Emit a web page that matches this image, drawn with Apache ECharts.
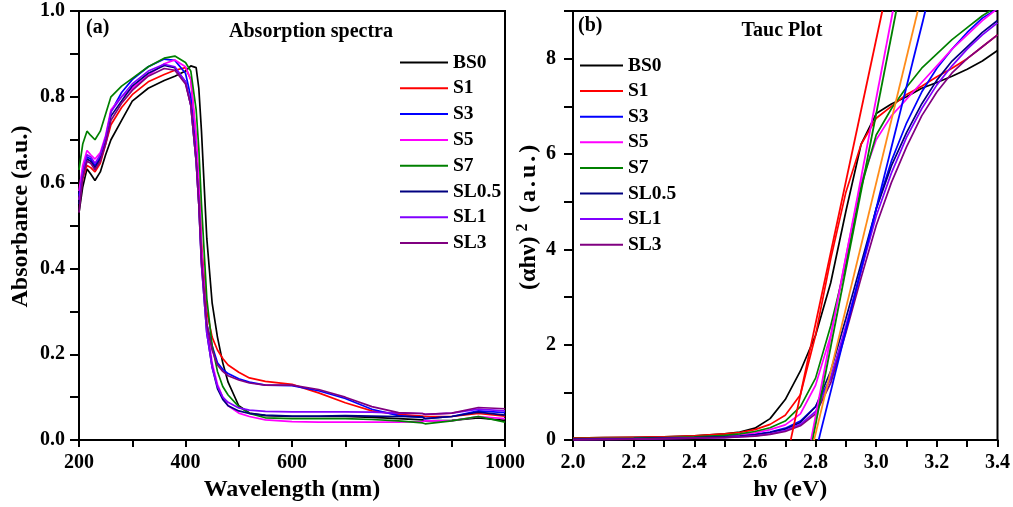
<!DOCTYPE html>
<html><head><meta charset="utf-8">
<script src="https://cdn.jsdelivr.net/npm/echarts@6/dist/echarts.min.js"></script>
<style>html,body{margin:0;padding:0;background:#fff}#c{width:1013px;height:507px}</style>
</head><body><div id="c"></div>
<script>
const names = ['BS0','S1','S3','S5','S7','SL0.5','SL1','SL3'];
const colors = ['#000000','#ff0000','#0000ff','#ff00ff','#008000','#000080','#8000ff','#800080'];

// Panel (a): absorption spectra
const wavelength = [200,207,215,222,230,240,250,260,280,300,330,360,380,400,410,420,425,430,440,450,460,470,480,500,520,550,600,650,700,750,800,845,850,900,950,1000];
const absBS0  = [0.53,0.59,0.632,0.62,0.605,0.625,0.665,0.70,0.745,0.79,0.82,0.838,0.848,0.86,0.872,0.868,0.82,0.72,0.47,0.32,0.24,0.18,0.135,0.08,0.063,0.057,0.055,0.055,0.055,0.053,0.05,0.047,0.045,0.046,0.052,0.046];
const absS1   = [0.56,0.61,0.64,0.635,0.625,0.645,0.69,0.735,0.775,0.805,0.835,0.852,0.862,0.868,0.84,0.7,0.6,0.46,0.3,0.24,0.21,0.19,0.175,0.158,0.145,0.137,0.13,0.11,0.087,0.068,0.06,0.056,0.055,0.055,0.062,0.056];
const absS3   = [0.57,0.63,0.66,0.655,0.64,0.66,0.70,0.765,0.81,0.84,0.87,0.888,0.885,0.855,0.8,0.67,0.57,0.43,0.27,0.22,0.18,0.165,0.155,0.143,0.135,0.128,0.127,0.115,0.097,0.072,0.057,0.053,0.05,0.055,0.068,0.064];
const absS5   = [0.58,0.64,0.675,0.665,0.655,0.67,0.71,0.77,0.80,0.82,0.85,0.877,0.886,0.87,0.84,0.71,0.6,0.45,0.27,0.18,0.13,0.1,0.08,0.063,0.055,0.047,0.043,0.042,0.042,0.042,0.042,0.043,0.045,0.045,0.055,0.05];
const absS7   = [0.63,0.69,0.72,0.71,0.70,0.72,0.76,0.80,0.825,0.843,0.87,0.89,0.895,0.88,0.86,0.77,0.68,0.55,0.33,0.22,0.16,0.125,0.105,0.078,0.062,0.052,0.05,0.05,0.05,0.048,0.045,0.04,0.038,0.045,0.055,0.042];
const absSL05 = [0.55,0.62,0.655,0.65,0.635,0.655,0.70,0.755,0.79,0.825,0.855,0.873,0.868,0.835,0.78,0.65,0.55,0.41,0.25,0.17,0.12,0.095,0.08,0.068,0.062,0.058,0.056,0.056,0.057,0.056,0.055,0.054,0.05,0.055,0.065,0.058];
const absSL1  = [0.56,0.625,0.665,0.66,0.645,0.665,0.705,0.765,0.80,0.83,0.86,0.876,0.87,0.835,0.78,0.65,0.55,0.41,0.25,0.17,0.125,0.1,0.088,0.075,0.07,0.067,0.066,0.066,0.066,0.065,0.063,0.062,0.06,0.063,0.072,0.068];
const absSL3  = [0.53,0.61,0.65,0.645,0.63,0.65,0.69,0.745,0.785,0.815,0.848,0.866,0.862,0.83,0.78,0.65,0.55,0.42,0.27,0.21,0.175,0.16,0.15,0.14,0.133,0.128,0.128,0.118,0.1,0.078,0.064,0.062,0.06,0.063,0.076,0.073];

// Panel (b): Tauc plot
const energy = [2.0,2.1,2.2,2.3,2.4,2.5,2.55,2.6,2.65,2.7,2.75,2.8,2.85,2.9,2.95,3.0,3.05,3.1,3.15,3.2,3.25,3.3,3.35,3.4];
const taucBS0  = [0.04,0.05,0.06,0.07,0.09,0.13,0.17,0.25,0.45,0.85,1.45,2.2,3.3,4.8,6.2,6.85,7.05,7.2,7.38,7.5,7.63,7.78,7.95,8.17];
const taucS1   = [0.04,0.05,0.06,0.07,0.09,0.13,0.16,0.22,0.33,0.52,0.95,2.2,3.8,5.2,6.2,6.75,7.0,7.25,7.42,7.62,7.8,8.0,8.25,8.5];
const taucS3   = [0.02,0.025,0.03,0.04,0.05,0.07,0.09,0.12,0.17,0.25,0.4,0.7,1.3,2.3,3.55,4.85,5.85,6.65,7.3,7.8,8.2,8.55,8.85,9.05];
const taucS5   = [0.02,0.03,0.035,0.045,0.06,0.09,0.11,0.15,0.22,0.32,0.55,1.15,2.2,3.85,5.4,6.3,6.8,7.15,7.5,7.85,8.2,8.5,8.8,9.05];
const taucS7   = [0.03,0.035,0.04,0.05,0.07,0.1,0.13,0.18,0.26,0.4,0.7,1.3,2.4,3.7,5.3,6.4,6.95,7.4,7.8,8.1,8.4,8.65,8.9,9.1];
const taucSL05 = [0.02,0.025,0.03,0.04,0.05,0.07,0.085,0.11,0.16,0.23,0.37,0.7,1.45,2.55,3.7,4.85,5.75,6.45,7.05,7.55,7.95,8.25,8.55,8.8];
const taucSL1  = [0.01,0.015,0.02,0.03,0.04,0.05,0.07,0.09,0.13,0.2,0.33,0.6,1.3,2.4,3.55,4.7,5.6,6.35,6.95,7.45,7.85,8.2,8.5,8.75];
const taucSL3  = [0.01,0.015,0.02,0.03,0.04,0.05,0.065,0.085,0.12,0.18,0.3,0.55,1.2,2.25,3.4,4.5,5.4,6.15,6.8,7.3,7.7,8.0,8.25,8.5];

// Linear fits (band-gap extrapolation): x at y=0 and x at y=9
const fitStart = [2.718,2.785,2.79,2.795,2.81];
const fitEnd   = [3.02,3.055,3.066,3.137,3.162];
const fitTop   = 9;
const fitColors = ['#ff0000','#ff00ff','#008000','#ff8c1a','#0000ff'];

// Tick labels
const absXLabels = ['200','400','600','800','1000'];
const absYLabels = ['0.0','0.2','0.4','0.6','0.8','1.0'];
const taucXLabels = ['2.0','2.2','2.4','2.6','2.8','3.0','3.2','3.4'];
const taucYLabels = ['0','2','4','6','8'];

const absSets = [absBS0,absS1,absS3,absS5,absS7,absSL05,absSL1,absSL3];
const taucSets = [taucBS0,taucS1,taucS3,taucS5,taucS7,taucSL05,taucSL1,taucSL3];

const FF = 'Liberation Serif';
const lblStyle = {fontFamily: FF, fontWeight: 'bold', fontSize: 20, color: '#000'};
const nameStyle = {fontFamily: FF, fontWeight: 'bold', fontSize: 24, color: '#000'};
const titleStyle = {fontFamily: FF, fontWeight: 'bold', fontSize: 20, color: '#000'};

function axisCommon(extra) {
  return Object.assign({
    type: 'value',
    axisLine: {show: true, onZero: false, lineStyle: {color: '#000', width: 2}},
    splitLine: {show: false}
  }, extra);
}

const series = [];
names.forEach((n, k) => {
  series.push({
    name: n, type: 'line', xAxisIndex: 0, yAxisIndex: 0,
    data: wavelength.map((w, i) => [w, absSets[k][i]]),
    showSymbol: false, symbol: 'none', smooth: false,
    lineStyle: {color: colors[k], width: 1.7}, itemStyle: {color: colors[k]}, z: 3
  });
});
names.forEach((n, k) => {
  series.push({
    name: n, type: 'line', xAxisIndex: 1, yAxisIndex: 1,
    data: energy.map((e, i) => [e, taucSets[k][i]]),
    showSymbol: false, symbol: 'none', smooth: false, clip: true,
    lineStyle: {color: colors[k], width: 1.7}, itemStyle: {color: colors[k]}, z: 3
  });
});
fitStart.forEach((s, k) => {
  series.push({
    name: 'fit' + k, type: 'line', xAxisIndex: 1, yAxisIndex: 1,
    data: [[s, 0], [fitEnd[k], fitTop]],
    showSymbol: false, symbol: 'none', clip: true,
    lineStyle: {color: fitColors[k], width: 1.8}, z: 4
  });
});

const legendCommon = {
  orient: 'vertical', icon: 'rect', itemHeight: 2,
  data: names,
  textStyle: {fontFamily: FF, fontWeight: 'bold', fontSize: 19.5, color: '#000', lineHeight: 19}
};

const uTok = {fontFamily: FF, fontWeight: 'bold', fontSize: 24, color: '#000', padding: [0, 1.5, 0, 1.5]};

const option = {
  animation: false,
  backgroundColor: '#fff',
  title: [
    {text: '(a)', left: 81, top: 13, textStyle: titleStyle},
    {text: 'Absorption spectra', left: 306, top: 17, textAlign: 'center', textStyle: titleStyle},
    {text: '(b)', left: 573, top: 11, textStyle: titleStyle},
    {text: 'Tauc Plot', left: 777, top: 16, textAlign: 'center', textStyle: titleStyle}
  ],
  legend: [
    Object.assign({}, legendCommon, {left: 395, top: 47.5, itemWidth: 48, itemGap: 5.8}),
    Object.assign({}, legendCommon, {left: 575, top: 50.5, itemWidth: 43, itemGap: 5.6})
  ],
  grid: [
    {left: 79, top: 11, width: 426, height: 430, show: true, borderColor: '#000', borderWidth: 2, backgroundColor: 'transparent'},
    {left: 573, top: 11, width: 425, height: 430, show: true, borderColor: '#000', borderWidth: 2, backgroundColor: 'transparent'}
  ],
  xAxis: [
    axisCommon({gridIndex: 0, min: 200, max: 1000, interval: 100,
      axisTick: {show: true, length: 7, lineStyle: {color: '#000', width: 2}},
      axisLabel: Object.assign({margin: 13, formatter: v => absXLabels.includes(String(v)) ? String(v) : ''}, lblStyle),
      name: 'Wavelength (nm)', nameLocation: 'middle', nameGap: 36, nameTextStyle: nameStyle}),
    axisCommon({gridIndex: 1, min: 2.0, max: 3.4, interval: 0.1,
      axisTick: {show: true, length: 7, lineStyle: {color: '#000', width: 2}},
      axisLabel: Object.assign({margin: 13, formatter: v => {const s = (+v).toFixed(1); return taucXLabels.includes(s) ? s : '';}}, lblStyle),
      name: 'h\u03BD (eV)', nameLocation: 'middle', nameGap: 36, nameTextStyle: Object.assign({}, nameStyle, {padding: [0, 0, 0, 10]})})
  ],
  yAxis: [
    axisCommon({gridIndex: 0, min: 0, max: 1, interval: 0.1,
      axisTick: {show: true, length: 9, lineStyle: {color: '#000', width: 2}},
      axisLabel: Object.assign({margin: 14, formatter: v => {const s = (+v).toFixed(1); return absYLabels.includes(s) ? s : '';}}, lblStyle),
      name: 'Absorbance (a.u.)', nameLocation: 'middle', nameGap: 46,
      nameTextStyle: Object.assign({}, nameStyle, {padding: [0, 0, 0, 18]})}),
    axisCommon({gridIndex: 1, min: 0, max: 9, interval: 1,
      axisTick: {show: true, length: 9, lineStyle: {color: '#000', width: 2}},
      axisLabel: Object.assign({margin: 17, formatter: v => taucYLabels.includes(String(v)) ? String(v) : ''}, lblStyle),
      name: '{a|(\u03B1h\u03BD)}{s|2}{u|(}{u|a}{u|.}{u|u}{u|.}{u|)}', nameLocation: 'middle', nameGap: 30,
      nameTextStyle: Object.assign({}, nameStyle, {
        padding: [0, 0, 0, 18],
        rich: {a: {fontFamily: FF, fontWeight: 'bold', fontSize: 24, color: '#000'},
               s: {fontFamily: FF, fontWeight: 'bold', fontSize: 16, color: '#000', padding: [0, 9, 12, 5]},
               u: uTok}})})
  ],
  series: series
};

const chart = echarts.init(document.getElementById('c'), null, {renderer: 'canvas'});
chart.setOption(option);
</script>
</body></html>
